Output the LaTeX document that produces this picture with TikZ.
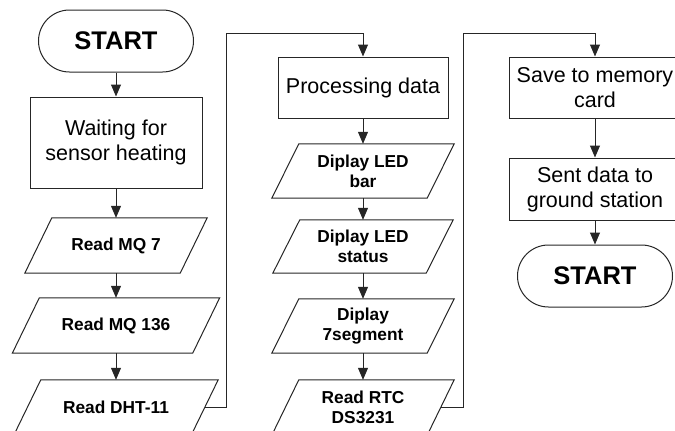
\documentclass[tikz,border=0pt]{standalone}
\usepackage{fontspec}
\setmainfont{Liberation Sans}
\usetikzlibrary{arrows.meta}
\begin{document}
\begin{tikzpicture}[x=1pt,y=-1pt,
  line/.style={draw=black!85, line width=1pt},
  arrow/.style={line, -{Triangle[length=12pt,width=10pt]}},
  term/.style={line, rectangle, rounded corners=31pt, minimum width=155pt,
    minimum height=62pt, inner sep=0pt,
    font=\bfseries\fontsize{25.5}{30}\selectfont},
  procbox/.style={line, rectangle, minimum width=172pt, inner sep=0pt,
    align=center, font=\fontsize{21.5}{25}\selectfont},
  iobox/.style={inner sep=0pt, minimum height=55pt, align=center,
    font=\bfseries\fontsize{17.3}{20}\selectfont},
]
\useasboundingbox (0,0) rectangle (675,431);
\clip (0,0) rectangle (675,431);

% first column
\node[term] (start) at (116,41) {START};
\node[procbox, minimum height=91pt] (wait) at (116,142.5) {Waiting for\\sensor heating};
\node[iobox, minimum width=155pt] (mq7) at (116,245.5) {Read MQ 7};
\node[iobox, minimum width=180pt] (mq136) at (116,325.5) {Read MQ 136};
\node[iobox, minimum width=177pt] (dht) at (116,407.5) {Read DHT-11};

% second column
\node[procbox, minimum width=170pt, minimum height=61pt] (proc) at (363,87.5) {Processing data};
\node[iobox, minimum width=155pt, minimum height=54pt] (bar) at (363,171) {Diplay LED\\bar};
\node[iobox, minimum width=153pt, minimum height=53pt] (status) at (363,246.5) {Diplay LED\\status};
\node[iobox, minimum width=155pt, minimum height=54pt] (seg) at (363,326) {Diplay\\7segment};
\node[iobox, minimum width=155pt] (rtc) at (363,407.5) {Read RTC\\DS3231};

% third column
\node[procbox, minimum height=61pt] (save) at (595,87.5) {Save to memory\\card};
\node[procbox, minimum height=62pt] (sent) at (595,189) {Sent data to\\ground station};
\node[term] (stop) at (595,276) {START};

% parallelogram outlines of the input/output steps
\foreach \n in {mq7,mq136,dht,bar,status,seg,rtc}
  \draw[line] ([xshift=-13.5pt]\n.south west) -- ([xshift=-13.5pt]\n.south east)
    -- ([xshift=13.5pt]\n.north east) -- ([xshift=13.5pt]\n.north west) -- cycle;

% flow connectors
\draw[arrow] (start.south) -- (wait.north);
\draw[arrow] (wait.south) -- (mq7.north);
\draw[arrow] (mq7.south) -- (mq136.north);
\draw[arrow] (mq136.south) -- (dht.north);

\coordinate (up1) at (226,33);
\draw[arrow] (dht.east) -| (up1) -| (proc.north);

\draw[arrow] (proc.south) -- (bar.north);
\draw[arrow] (bar.south) -- (status.north);
\draw[arrow] (status.south) -- (seg.north);
\draw[arrow] (seg.south) -- (rtc.north);

\coordinate (up2) at (463,33);
\draw[arrow] (rtc.east) -| (up2) -| (save.north);

\draw[arrow] (save.south) -- (sent.north);
\draw[arrow] (sent.south) -- (stop.north);
\end{tikzpicture}
\end{document}
